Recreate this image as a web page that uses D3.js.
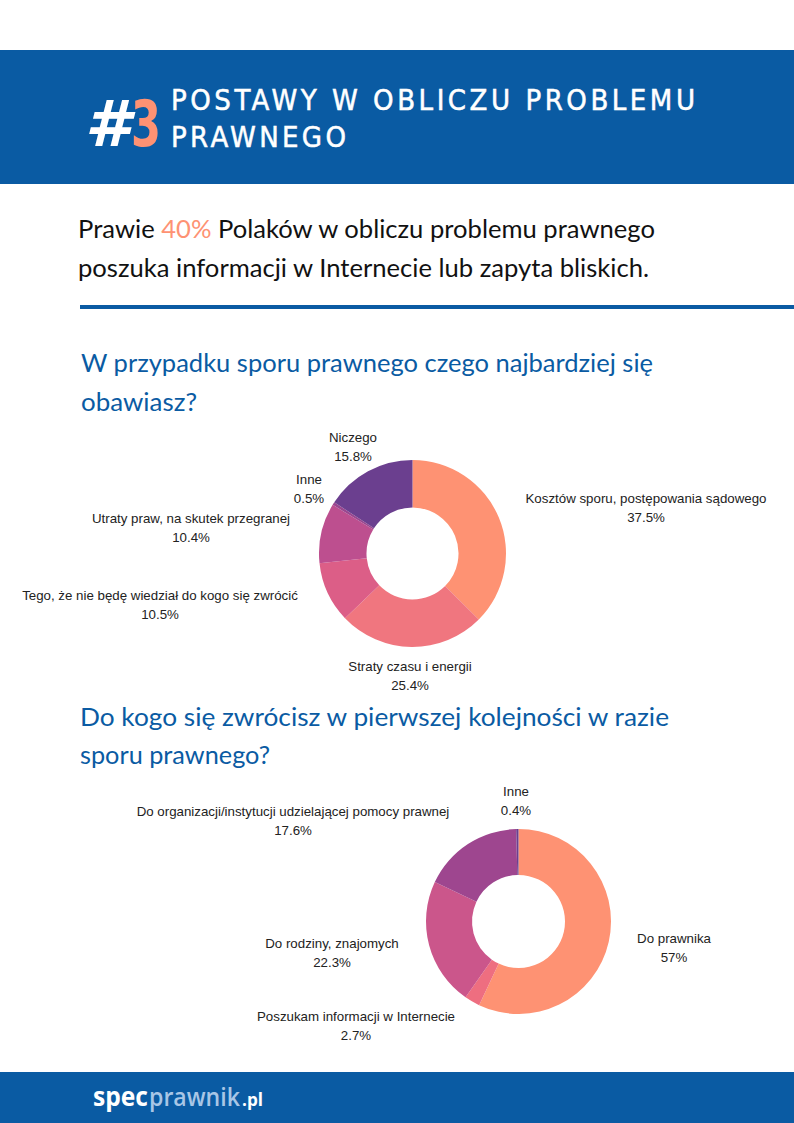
<!DOCTYPE html>
<html><head><meta charset="utf-8">
<script src="https://cdn.jsdelivr.net/npm/d3@7"></script>
<style>html,body{margin:0;padding:0;background:#fff}svg{display:block}</style>
</head><body>
<script>
// ---- data ----
const chart1Categories = ["Kosztów sporu, postępowania sądowego","Straty czasu i energii","Tego, że nie będę wiedział do kogo się zwrócić","Utraty praw, na skutek przegranej","Inne","Niczego"];
const chart1Values = [37.5, 25.4, 10.5, 10.4, 0.5, 15.8];
const chart1Labels = ["37.5%","25.4%","10.5%","10.4%","0.5%","15.8%"];
const chart1Colors = ["#fe9273","#f0767f","#dc5e87","#bd4f8f","#9a468f","#6b3f8f"];

const chart2Categories = ["Do prawnika","Poszukam informacji w Internecie","Do rodziny, znajomych","Do organizacji/instytucji udzielającej pomocy prawnej","Inne"];
const chart2Values = [57, 2.7, 22.3, 17.6, 0.4];
const chart2Labels = ["57%","2.7%","22.3%","17.6%","0.4%"];
const chart2Colors = ["#fe9273","#ee6e80","#cb568b","#9e468f","#6b3f8f"];

// label anchor positions (layout)
const chart1LabelPos = [[646,498],[410,666],[160,595],[191,518],[309,479],[353,437]];
const chart2LabelPos = [[674,938],[356,1016],[332,943],[293,811],[516,791]];

const W=794,H=1123, BLUE="#0a5ba3", ORANGE="#fe9273";
const svg=d3.select("body").append("svg").attr("width",W).attr("height",H);
svg.append("rect").attr("width",W).attr("height",H).attr("fill","#fff");

// fit a text to a target width by horizontal scaling
function fitText(x,y,width,txt,attrs){
  const t=svg.append("text").attr("x",0).attr("y",0).text(txt);
  Object.entries(attrs).forEach(([k,v])=>t.attr(k,v));
  const w=t.node().getComputedTextLength();
  t.attr("transform",`translate(${x},${y}) scale(${width/w},1)`);
  return t;
}

// header
svg.append("rect").attr("x",0).attr("y",50).attr("width",W).attr("height",134).attr("fill",BLUE);
fitText(85,146,45,"#",{"font-family":"DejaVu Sans","font-weight":"bold","font-style":"italic","font-size":64,"fill":"#fff"});
fitText(131,146,30,"3",{"font-family":"DejaVu Sans Condensed","font-weight":"bold","font-size":64,"fill":ORANGE});
svg.append("text").attr("x",171).attr("y",110).attr("fill","#fff").attr("font-family","DejaVu Sans Condensed").attr("font-size",29)
  .attr("stroke","#fff").attr("stroke-width",0.5)
  .attr("textLength",524).attr("lengthAdjust","spacing").text("POSTAWY W OBLICZU PROBLEMU");
svg.append("text").attr("x",171).attr("y",147).attr("fill","#fff").attr("font-family","DejaVu Sans Condensed").attr("font-size",29)
  .attr("stroke","#fff").attr("stroke-width",0.5)
  .attr("textLength",175).attr("lengthAdjust","spacing").text("PRAWNEGO");

// subtitle
const s1=svg.append("text").attr("x",78).attr("y",238).attr("font-family","Lato").attr("font-size",25).attr("fill","#111")
  .attr("textLength",577).attr("lengthAdjust","spacingAndGlyphs");
s1.append("tspan").text("Prawie ");
s1.append("tspan").attr("fill",ORANGE).text("40%");
s1.append("tspan").text(" Polaków w obliczu problemu prawnego");
svg.append("text").attr("x",78).attr("y",277).attr("font-family","Lato").attr("font-size",25).attr("fill","#111")
  .attr("textLength",571).attr("lengthAdjust","spacingAndGlyphs").text("poszuka informacji w Internecie lub zapyta bliskich.");
svg.append("rect").attr("x",80).attr("y",305).attr("width",W-80).attr("height",4).attr("fill",BLUE);

// section headings
function heading(txt,x,y,len){
  svg.append("text").attr("x",x).attr("y",y).attr("font-family","Lato").attr("font-size",25).attr("fill",BLUE)
   .attr("textLength",len).attr("lengthAdjust","spacingAndGlyphs").text(txt);
}
heading("W przypadku sporu prawnego czego najbardziej się",81,372,572);
heading("obawiasz?",81,411,116);
heading("Do kogo się zwrócisz w pierwszej kolejności w razie",80,726,589);
heading("sporu prawnego?",80,764,190);

// donuts
function donut(cx,cy,ro,ri,vals,colors,cats,labels,pos){
  const pie=d3.pie().sort(null).value(d=>d)(vals);
  const arc=d3.arc().innerRadius(ri).outerRadius(ro);
  const g=svg.append("g").attr("transform",`translate(${cx},${cy})`);
  g.selectAll("path").data(pie).join("path").attr("d",arc).attr("fill",(d,i)=>colors[i]);
  const lg=svg.append("g").attr("font-family","Liberation Sans, Arial").attr("font-size",13.3).attr("fill","#222").attr("text-anchor","middle");
  cats.forEach((c,i)=>{
    lg.append("text").attr("x",pos[i][0]).attr("y",pos[i][1]+4.5).text(c);
    lg.append("text").attr("x",pos[i][0]).attr("y",pos[i][1]+23.5).text(labels[i]);
  });
}
donut(412.5,553.5,93.5,46,chart1Values,chart1Colors,chart1Categories,chart1Labels,chart1LabelPos);
donut(518.5,921.5,92.5,46.5,chart2Values,chart2Colors,chart2Categories,chart2Labels,chart2LabelPos);

// footer
svg.append("rect").attr("x",0).attr("y",1072).attr("width",W).attr("height",51).attr("fill",BLUE);
fitText(93,1106,55,"spec",{"font-family":"Open Sans","font-size":26,"font-weight":"bold","fill":"#fff"});
fitText(149,1106,91,"prawnik",{"font-family":"Open Sans","font-size":26,"font-weight":"600","fill":"#a8c6e6"});
fitText(242,1106,21,".pl",{"font-family":"Open Sans","font-size":18,"font-weight":"bold","fill":"#fff"});
</script>
</body></html>
